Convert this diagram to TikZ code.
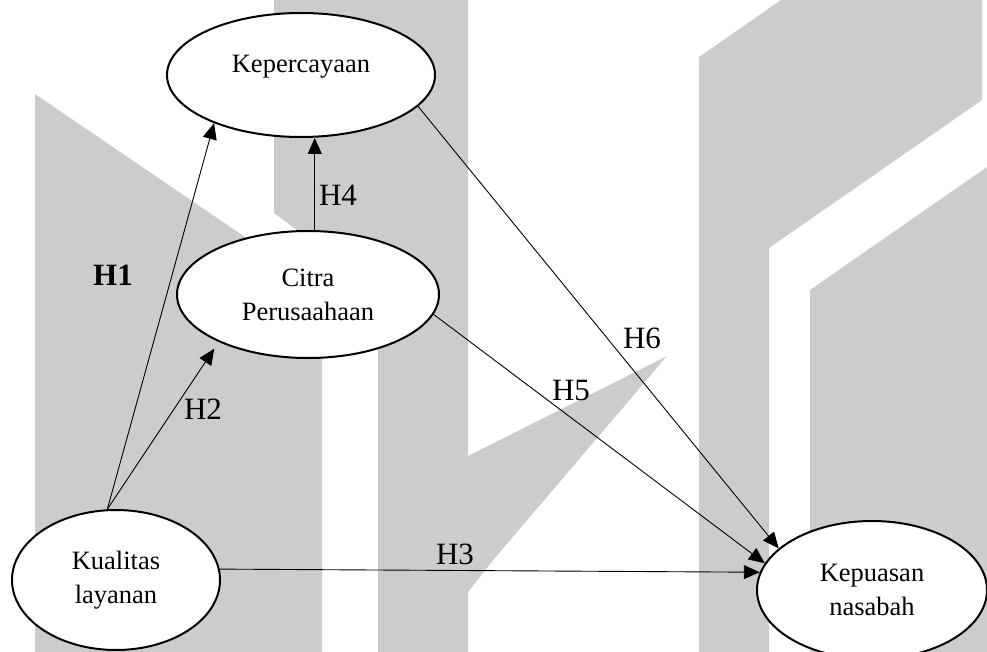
\documentclass[tikz,border=0pt]{standalone}
\usepackage{fontspec}
\setmainfont{Liberation Serif}
\usetikzlibrary{arrows.meta, shapes.geometric}
\definecolor{MarkGray}{HTML}{CCCCCC}

\begin{document}
\begin{tikzpicture}[x=1pt, y=-1pt,
    var/.style={draw, ellipse, line width=2pt, fill=white, inner sep=0pt, align=center, font=\fontsize{26.5}{34}\selectfont},
    vartext/.style={inner sep=0pt, font=\fontsize{26.5}{34}\selectfont},
    hyp/.style={line width=0.9pt, -{Triangle[length=16pt, width=14pt]}},
    hlabel/.style={inner sep=0pt, font=\fontsize{31}{36}\selectfont}]
    \useasboundingbox (0,0) rectangle (987,652);
    \clip (0,0) rectangle (987,652);

    % grey logo blocks in the back
    \fill[MarkGray] (35,94) -- (245,237) -- (322,290) -- (322,652) -- (35,652) -- cycle;
    \fill[MarkGray] (274,0) -- (468,0) -- (468,652) -- (378,652) -- (378,291) -- (274,213) -- cycle;
    \fill[MarkGray] (468,456) -- (667,356) -- (494,559) -- (468,592) -- cycle;
    \fill[MarkGray] (699,57) -- (781,0) -- (982,0) -- (982,100) -- (769,248) -- (769,652) -- (699,652) -- cycle;
    \fill[MarkGray] (810,290) -- (987,167) -- (987,652) -- (810,652) -- cycle;

    % variables
    \node[var, minimum width=268pt, minimum height=124pt] (kep) at (301,75) {};
    \node[vartext, anchor=base] (kep-name) at (301,73) {Kepercayaan};
    \node[var, minimum width=262pt, minimum height=127pt] (citra) at (308,294.5) {Citra\\Perusaahaan};
    \node[var, minimum width=208pt, minimum height=140pt] (kualitas) at (116,580) {Kualitas\\layanan};
    \node[var, minimum width=230pt, minimum height=138pt] (kepuasan) at (872,590) {Kepuasan\\nasabah};

    % hypotheses
    \draw[hyp] (kualitas.97) -- (kep.209);
    \draw[hyp, shorten >=8pt] (kualitas.97) -- (citra.208);
    \draw[hyp] (kualitas.6) -- (kepuasan.171);
    \draw[hyp] (citra.84) -- (citra.84 |- kep.south);
    \draw[hyp] (citra.351) -- (kepuasan.166);
    \draw[hyp] (kep.345) -- (kepuasan.156);

    \node[hlabel, font=\fontsize{31}{36}\selectfont\bfseries] (h1) at (113,275) {H1};
    \node[hlabel] (h2) at (203,409) {H2};
    \node[hlabel] (h3) at (455,554) {H3};
    \node[hlabel] (h4) at (338,195) {H4};
    \node[hlabel] (h5) at (571,390) {H5};
    \node[hlabel] (h6) at (642,338) {H6};
\end{tikzpicture}
\end{document}
